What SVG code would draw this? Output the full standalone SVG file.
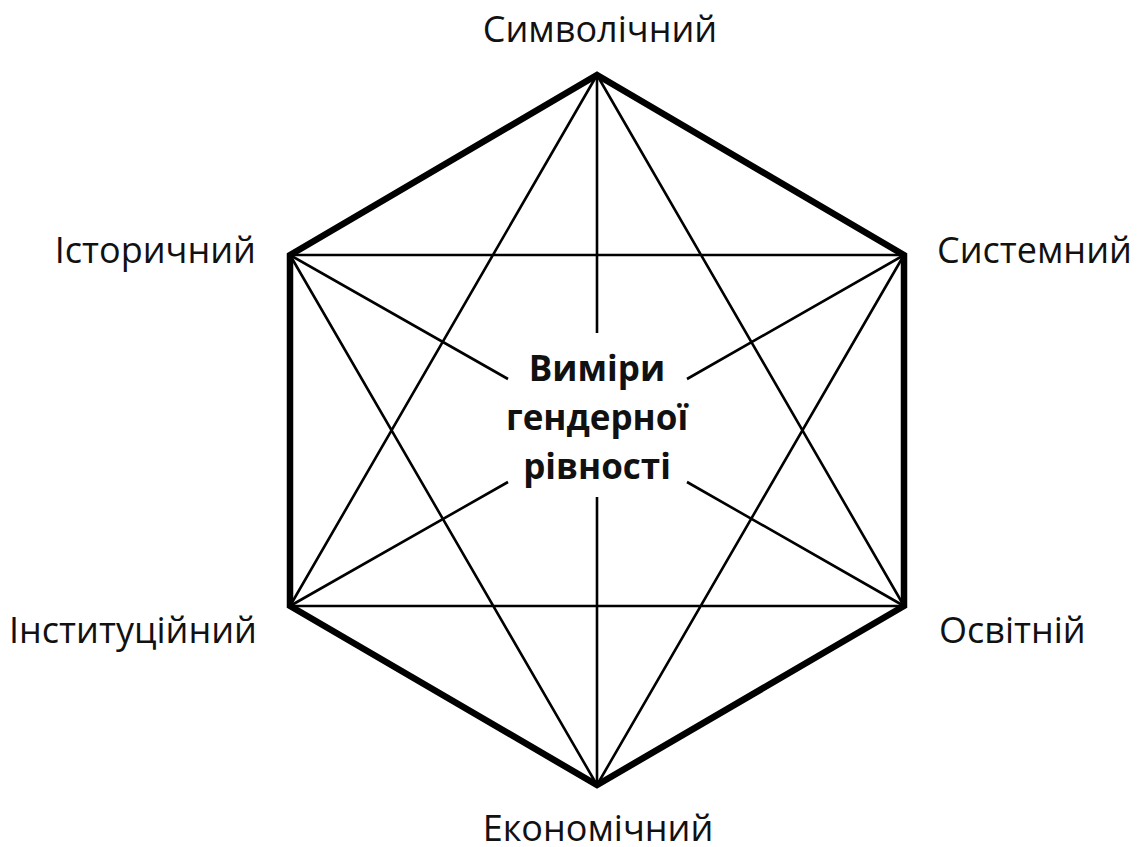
<svg xmlns="http://www.w3.org/2000/svg" width="1141" height="847" viewBox="0 0 1141 847">
<style>
.lbl{font-family:"Open Sans","Noto Sans",sans-serif;font-size:36px;fill:#111}
.ctr{font-family:"Open Sans","Noto Sans",sans-serif;font-size:35px;font-weight:bold;fill:#111;text-anchor:middle}
.thin{stroke:#000;stroke-width:2.6;fill:none}
.thick{stroke:#000;stroke-width:6.5;fill:none;stroke-linejoin:miter}
</style>
<rect width="1141" height="847" fill="#fff"/>
<g id="connectors">
<path class="thin" d="M597 75 L290 606 M597 75 L904 606 M290 255 L904 255 M290 255 L597 785 M904 255 L597 785 M290 606 L904 606"/>
<path class="thin" d="M597 75 L597 333 M597 497 L597 785 M290 255 L508 379 M687 482 L904 606 M904 255 L687 379 M508 482 L290 606"/>
<polygon id="hexagon" class="thick" points="597,75 904,255 904,606 597,785 290,606 290,255"/>
</g>
<g id="center"><text class="ctr" x="597" y="381">Виміри</text><text class="ctr" x="597" y="430">гендерної</text><text class="ctr" x="597" y="479">рівності</text></g>
<g id="n-top"><text class="lbl" x="600" y="42" text-anchor="middle">Символічний</text></g>
<g id="n-ur"><text class="lbl" x="937" y="263">Системний</text></g>
<g id="n-lr"><text class="lbl" x="939" y="643">Освітній</text></g>
<g id="n-bottom"><text class="lbl" x="598" y="841" text-anchor="middle">Економічний</text></g>
<g id="n-ll"><text class="lbl" x="257" y="643" text-anchor="end">Інституційний</text></g>
<g id="n-ul"><text class="lbl" x="256" y="263" text-anchor="end">Історичний</text></g>
</svg>
